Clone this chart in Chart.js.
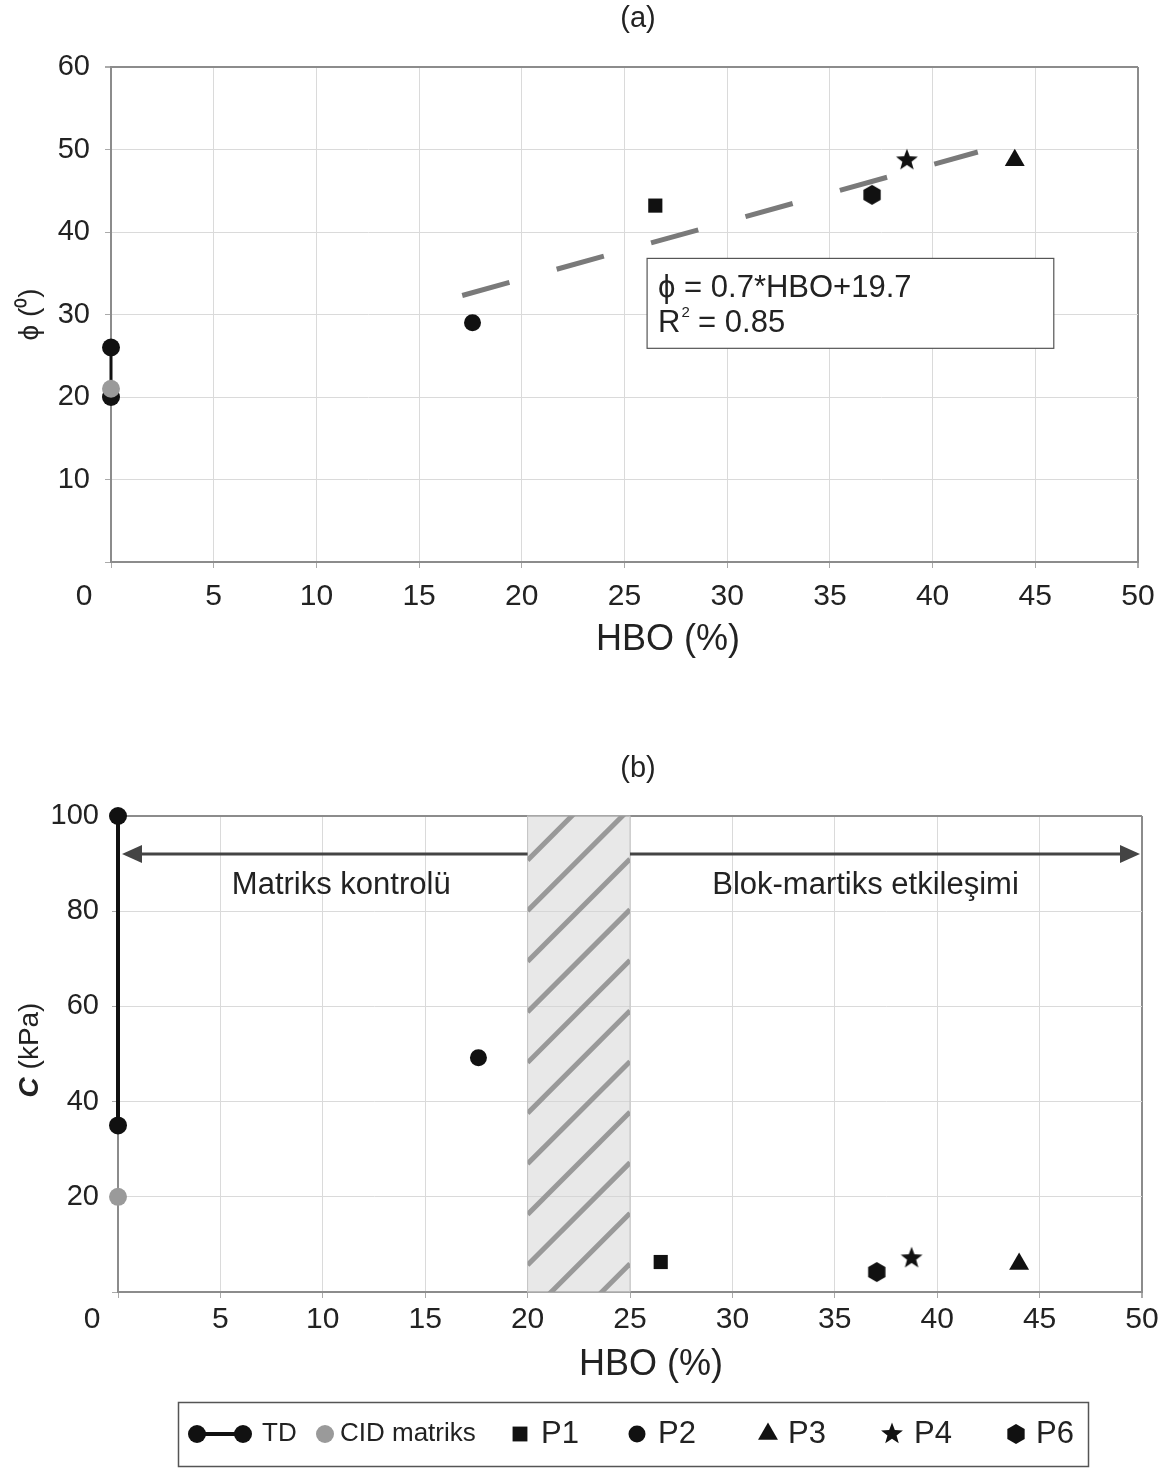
<!doctype html>
<html>

<head>
<title>HBO - phi / c</title>
<script src="https://cdn.jsdelivr.net/npm/chart.js@4.4.1/dist/chart.umd.min.js"></script>
<style>
body {
	margin: 0;
	background: #fff;
}
#wrapA { position: absolute; left: 0; top: 0; width: 1169px; height: 700px; }
#wrapB { position: absolute; left: 0; top: 740px; width: 1169px; height: 730px; }
</style>
</head>

<body>
	<div id="wrapA"><canvas id="chartA"></canvas></div>
	<div id="wrapB"><canvas id="chartB"></canvas></div>
	<script>
		// samples, in legend order
		const sampleNames = ['P1', 'P2', 'P3', 'P4', 'P6'];
		const hbo = [26.5, 17.6, 44.0, 38.75, 37.05];
		const phiSamples = [43.2, 29.0, 48.7, 48.7, 44.5];
		const cSamples = [6.3, 49.2, 5.9, 7.1, 4.2];

		// matrix tests at HBO = 0
		const phiTD = [20, 26];
		const cTD = [35, 100];
		const phiCID = [21];
		const cCID = [20];

		// fitted trend, panel (a)
		const trendHBO = [17.1, 42.2];
		const trendPhi = [32.3, 49.7];

		const xTicks = [0, 5, 10, 15, 20, 25, 30, 35, 40, 45, 50];
		const phiTicks = [0, 10, 20, 30, 40, 50, 60];
		const cTicks = [0, 20, 40, 60, 80, 100];

		// panel (b) zones
		const transitionZone = [20, 25];
		const zoneArrowLevel = 92;
		const zoneLabels = ['Matriks kontrolü', 'Blok-martiks etkileşimi'];
		const zoneLabelX = [10.9, 36.5];
		const zoneLabelY = 85.5;

		const FONT = "'Liberation Sans', Arial, sans-serif";
		const INK = '#111';
		const TEXT = '#222';
		const GRID = '#dadada';
		const FRAME = '#8c8c8c';

		Chart.defaults.font.family = FONT;
		Chart.defaults.color = TEXT;

		function makeMarker(size, draw) {
			const c = document.createElement('canvas');
			c.width = c.height = size;
			const g = c.getContext('2d');
			g.fillStyle = INK;
			g.translate(size / 2, size / 2);
			draw(g);
			return c;
		}
		const starImg = makeMarker(26, g => {
			g.beginPath();
			for (let i = 0; i < 10; i++) {
				const r = i % 2 ? 4.8 : 11.5;
				const a = -Math.PI / 2 + i * Math.PI / 5;
				g.lineTo(r * Math.cos(a), r * Math.sin(a));
			}
			g.closePath();
			g.fill();
		});
		const hexImg = makeMarker(24, g => {
			g.beginPath();
			for (let i = 0; i < 6; i++) {
				const a = -Math.PI / 2 + i * Math.PI / 3;
				g.lineTo(10 * Math.cos(a), 10 * Math.sin(a));
			}
			g.closePath();
			g.fill();
		});
		const sampleStyles = ['rect', 'circle', 'triangle', starImg, hexImg];
		const sampleRadius = [10, 8.5, 11.5, 9, 9];

		function sampleSets(yValues) {
			return sampleNames.map((name, i) => ({
				label: name,
				data: [{x: hbo[i], y: yValues[i]}],
				pointStyle: sampleStyles[i],
				pointRadius: sampleRadius[i],
				backgroundColor: INK,
				borderColor: INK,
				borderWidth: 0,
				clip: false
			}));
		}

		function matrixSets(tdValues, cidValues, tdWidth) {
			return [{
				label: 'CID matriks',
				data: cidValues.map(v => ({x: 0, y: v})),
				pointRadius: 9,
				backgroundColor: '#9a9a9a',
				borderWidth: 0,
				clip: false
			}, {
				label: 'TD',
				data: tdValues.map(v => ({x: 0, y: v})),
				showLine: true,
				borderColor: INK,
				borderWidth: tdWidth,
				pointRadius: 9,
				backgroundColor: INK,
				pointBorderWidth: 0,
				clip: false
			}];
		}

		function scalesFor(yTicks, yTitle, yWidth, yPad, xPad) {
			const yMax = yTicks[yTicks.length - 1];
			return {
				x: {
					type: 'linear',
					min: 0,
					max: 50,
					afterBuildTicks: s => { s.ticks = xTicks.map(v => ({value: v})); },
					afterFit: s => { s.height = 60; s.paddingLeft = 0; s.paddingRight = 0; },
					ticks: {
						font: {size: 30},
						color: TEXT,
						padding: xPad,
						callback: v => v === 0 ? '' : v
					},
					grid: {
						color: c => c.tick && c.tick.value === 50 ? FRAME : GRID,
						tickColor: '#aaa',
						tickLength: 6,
						lineWidth: c => c.tick && c.tick.value === 50 ? 2 : 1
					},
					border: {color: FRAME, width: 2}
				},
				y: {
					type: 'linear',
					min: 0,
					max: yMax,
					afterBuildTicks: s => { s.ticks = yTicks.map(v => ({value: v})); },
					afterFit: s => { s.width = yWidth; s.paddingTop = 0; s.paddingBottom = 0; },
					ticks: {
						font: {size: 29},
						color: TEXT,
						padding: yPad,
						callback: v => v === 0 ? '' : v
					},
					grid: {
						color: c => c.tick && c.tick.value === yMax ? FRAME : GRID,
						tickColor: '#aaa',
						tickLength: 6,
						lineWidth: c => c.tick && c.tick.value === yMax ? 2 : 1
					},
					border: {color: FRAME, width: 2},
					title: {
						display: !!yTitle,
						text: yTitle,
						font: {size: 28},
						color: TEXT,
						padding: {top: 13, bottom: 0}
					}
				}
			};
		}

		function text(ctx, str, x, y, size, align, style) {
			ctx.save();
			ctx.font = (style ? style + ' ' : '') + size + 'px ' + FONT;
			ctx.fillStyle = TEXT;
			ctx.textAlign = align || 'center';
			ctx.textBaseline = 'middle';
			ctx.fillText(str, x, y);
			ctx.restore();
		}

		const baseOptions = {
			responsive: true,
			maintainAspectRatio: false,
			animation: false,
			events: [],
			plugins: {legend: {display: false}, tooltip: {enabled: false}}
		};

		// ---------- (a) ----------
		const panelA = {
			id: 'panelA',
			afterDraw(chart) {
				const {ctx, scales: {x, y}} = chart;
				text(ctx, '(a)', 638, 19, 29);
				text(ctx, 'HBO (%)', 668, 640, 36);
				text(ctx, '0', x.getPixelForValue(0) - 27, 597, 30);

				// equation box
				const l = x.getPixelForValue(26.1), r = x.getPixelForValue(45.9);
				const t = y.getPixelForValue(36.8), b = y.getPixelForValue(25.9);
				ctx.save();
				ctx.fillStyle = '#fff';
				ctx.strokeStyle = '#555';
				ctx.lineWidth = 1.2;
				ctx.fillRect(l, t, r - l, b - t);
				ctx.strokeRect(l, t, r - l, b - t);
				ctx.font = '31px ' + FONT;
				const rw = ctx.measureText('R').width;
				ctx.restore();
				text(ctx, 'ϕ = 0.7*HBO+19.7', l + 11, t + 30, 31, 'left');
				text(ctx, 'R', l + 11, t + 65, 31, 'left');
				text(ctx, '2', l + 12 + rw, t + 54, 15, 'left');
				text(ctx, ' = 0.85', l + 12 + rw + 8, t + 65, 31, 'left');
			}
		};

		new Chart(document.getElementById('chartA'), {
			type: 'scatter',
			data: {
				datasets: [
					{
						label: 'trend',
						data: trendHBO.map((v, i) => ({x: v, y: trendPhi[i]})),
						showLine: true,
						borderColor: '#7a7a7a',
						borderWidth: 5,
						borderDash: [49, 49],
						borderCapStyle: 'butt',
						pointRadius: 0
					},
					...matrixSets(phiTD, phiCID, 3),
					...sampleSets(phiSamples)
				]
			},
			options: {
				...baseOptions,
				layout: {padding: {top: 67, right: 31, bottom: 78, left: 0}},
				scales: scalesFor(phiTicks, 'ϕ (⁰)', 111, 15, 11)
			},
			plugins: [panelA]
		});

		// ---------- (b) ----------
		const legendItems = [
			{label: 'TD', kind: 'td', mx: 197, tx: 262, size: 26},
			{label: 'CID matriks', kind: 'cid', mx: 325, tx: 340, size: 26},
			{label: 'P1', kind: 0, mx: 520, tx: 541, size: 31},
			{label: 'P2', kind: 1, mx: 637, tx: 658, size: 31},
			{label: 'P3', kind: 2, mx: 768, tx: 788, size: 31},
			{label: 'P4', kind: 3, mx: 892, tx: 914, size: 31},
			{label: 'P6', kind: 4, mx: 1016, tx: 1036, size: 31}
		];
		const legendRadius = [10.5, 8.5, 11.5, 9, 9];

		function arrow(ctx, x0, x1, yPix) {
			const dir = Math.sign(x1 - x0);
			ctx.beginPath();
			ctx.moveTo(x0, yPix);
			ctx.lineTo(x1 - dir * 14, yPix);
			ctx.stroke();
			ctx.beginPath();
			ctx.moveTo(x1, yPix);
			ctx.lineTo(x1 - dir * 20, yPix - 9);
			ctx.lineTo(x1 - dir * 20, yPix + 9);
			ctx.closePath();
			ctx.fill();
		}

		const panelB = {
			id: 'panelB',
			beforeDatasetsDraw(chart) {
				const {ctx, chartArea, scales: {x}} = chart;
				const l = x.getPixelForValue(transitionZone[0]);
				const r = x.getPixelForValue(transitionZone[1]);
				const t = chartArea.top, b = chartArea.bottom;
				ctx.save();
				ctx.fillStyle = 'rgba(210,210,210,0.5)';
				ctx.fillRect(l, t, r - l, b - t);
				ctx.strokeStyle = '#c4c4c4';
				ctx.lineWidth = 1;
				ctx.strokeRect(l, t, r - l, b - t);
				ctx.beginPath();
				ctx.rect(l, t, r - l, b - t);
				ctx.clip();
				ctx.strokeStyle = '#999';
				ctx.lineWidth = 5;
				const w = r - l;
				for (let yy = b - 27 + 4 * 50.6; yy > t - 50.6; yy -= 50.6) {
					ctx.beginPath();
					ctx.moveTo(l, yy);
					ctx.lineTo(r, yy - w);
					ctx.stroke();
				}
				ctx.restore();
			},
			afterDatasetsDraw(chart) {
				const {ctx, scales: {x, y}} = chart;
				const ay = y.getPixelForValue(zoneArrowLevel);
				ctx.save();
				ctx.strokeStyle = '#444';
				ctx.fillStyle = '#444';
				ctx.lineWidth = 3;
				arrow(ctx, x.getPixelForValue(transitionZone[0]), x.getPixelForValue(0) + 4, ay);
				arrow(ctx, x.getPixelForValue(transitionZone[1]), x.getPixelForValue(50) - 2, ay);
				ctx.restore();
				zoneLabels.forEach((s, i) => {
					text(ctx, s, x.getPixelForValue(zoneLabelX[i]), y.getPixelForValue(zoneLabelY), 31);
				});
			},
			afterDraw(chart) {
				const {ctx, chartArea, scales: {x}} = chart;
				text(ctx, '(b)', 638, 29, 29);
				text(ctx, 'HBO (%)', 651, 625, 36);
				text(ctx, '0', x.getPixelForValue(0) - 26, 580, 30);

				// y-axis title: italic bold C
				ctx.save();
				ctx.translate(30, (chartArea.top + chartArea.bottom) / 2 - 4);
				ctx.rotate(-Math.PI / 2);
				ctx.font = 'italic bold 28px ' + FONT;
				const cw = ctx.measureText('C').width;
				ctx.font = '28px ' + FONT;
				const rest = ' (kPa)';
				const total = cw + ctx.measureText(rest).width;
				ctx.restore();
				ctx.save();
				ctx.translate(30, (chartArea.top + chartArea.bottom) / 2 - 4);
				ctx.rotate(-Math.PI / 2);
				text(ctx, 'C', -total / 2, 0, 28, 'left', 'italic bold');
				text(ctx, rest, -total / 2 + cw, 0, 28, 'left');
				ctx.restore();

				// legend
				const ly = 694;
				ctx.save();
				ctx.strokeStyle = '#555';
				ctx.lineWidth = 1.5;
				ctx.strokeRect(178.5, 662.5, 910, 64);
				legendItems.forEach(it => {
					ctx.fillStyle = INK;
					if (it.kind === 'td') {
						ctx.strokeStyle = INK;
						ctx.lineWidth = 4;
						ctx.beginPath();
						ctx.moveTo(197, ly);
						ctx.lineTo(243, ly);
						ctx.stroke();
						[197, 243].forEach(px => {
							ctx.beginPath();
							ctx.arc(px, ly, 9, 0, Math.PI * 2);
							ctx.fill();
						});
					} else if (it.kind === 'cid') {
						ctx.fillStyle = '#9a9a9a';
						ctx.beginPath();
						ctx.arc(it.mx, ly, 9, 0, Math.PI * 2);
						ctx.fill();
					} else {
						Chart.helpers.drawPoint(ctx, {
							pointStyle: sampleStyles[it.kind],
							radius: legendRadius[it.kind],
							borderWidth: 0,
							rotation: 0
						}, it.mx, ly);
					}
					text(ctx, it.label, it.tx, ly, it.size, 'left');
				});
				ctx.restore();
			}
		};

		new Chart(document.getElementById('chartB'), {
			type: 'scatter',
			data: {
				datasets: [
					...matrixSets(cTD, cCID, 4),
					...sampleSets(cSamples)
				]
			},
			options: {
				...baseOptions,
				layout: {padding: {top: 76, right: 27, bottom: 118, left: 0}},
				scales: scalesFor(cTicks, '', 118, 13, 4)
			},
			plugins: [panelB]
		});
	</script>
</body>

</html>
